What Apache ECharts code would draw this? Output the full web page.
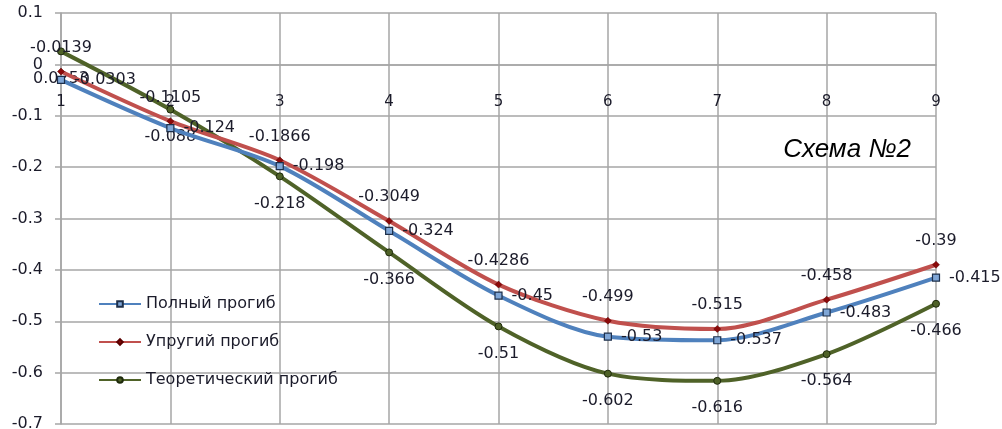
<!DOCTYPE html>
<html>
<head>
<meta charset="utf-8">
<script src="https://cdn.jsdelivr.net/npm/echarts@6/dist/echarts.min.js"></script>
<style>
  html, body { margin: 0; padding: 0; background: #fff; }
  #chart { width: 1002px; height: 429px; }
</style>
</head>
<body>
<div id="chart"></div>
<script>
// Точки сечений и значения прогибов
const categories = ['1', '2', '3', '4', '5', '6', '7', '8', '9'];
const fullDeflection = [-0.0303, -0.124, -0.198, -0.324, -0.45, -0.53, -0.537, -0.483, -0.415];
const elasticDeflection = [-0.0139, -0.1105, -0.1866, -0.3049, -0.4286, -0.499, -0.515, -0.458, -0.39];
const theoreticalDeflection = [0.0253, -0.088, -0.218, -0.366, -0.51, -0.602, -0.616, -0.564, -0.466];
const seriesNames = ['Полный прогиб', 'Упругий прогиб', 'Теоретический прогиб'];
const titleText = 'Схема №2';

const FONT = '"DejaVu Sans", sans-serif';
const TXT = '#1b1b2a';
const GRID = '#a6a6a6';

const labelBase = { show: true, fontFamily: FONT, fontSize: 16, color: TXT };

const chart = echarts.init(document.getElementById('chart'), null, { renderer: 'canvas' });
chart.setOption({
  animation: false,
  backgroundColor: '#fff',
  title: {
    text: titleText,
    right: 86, top: 132,
    textStyle: { fontFamily: '"Liberation Sans", Arial, sans-serif', fontStyle: 'italic', fontWeight: 'normal', fontSize: 26, color: '#000' }
  },
  legend: {
    orient: 'vertical',
    left: 93, top: 291,
    itemWidth: 42, itemHeight: 7, itemGap: 22,
    textStyle: { fontFamily: FONT, fontSize: 16, color: TXT },
    data: seriesNames
  },
  grid: { left: 61, right: 66, top: 13, bottom: 5, containLabel: false, outerBoundsMode: 'none' },
  xAxis: {
    type: 'category',
    data: categories,
    boundaryGap: false,
    position: 'bottom',
    axisLine: { onZero: false, lineStyle: { color: GRID, width: 1.5 } },
    axisTick: { show: false },
    axisLabel: { margin: 30, fontFamily: FONT, fontSize: 15, color: TXT },
    splitLine: { show: true, lineStyle: { color: GRID, width: 1.5 } }
  },
  yAxis: {
    type: 'value',
    min: -0.7, max: 0.1, interval: 0.1,
    axisLine: { show: true, lineStyle: { color: GRID, width: 1.5 } },
    axisTick: { show: true, length: 6, lineStyle: { color: GRID, width: 1.5 } },
    axisLabel: {
      margin: 18, fontFamily: FONT, fontSize: 16, color: TXT,
      formatter: v => String(Math.round(v * 10) / 10)
    },
    splitLine: { show: true, lineStyle: { color: GRID, width: 1.5 } }
  },
  series: [
    {
      name: seriesNames[0], type: 'line', data: fullDeflection, smooth: 0.3, z: 3,
      lineStyle: { color: '#4f81bd', width: 4 },
      itemStyle: { color: '#7fa6d6', borderColor: '#1d2f4a', borderWidth: 1.2 },
      symbol: 'rect', symbolSize: 7,
      label: Object.assign({ position: 'right', distance: 9 }, labelBase)
    },
    {
      name: seriesNames[1], type: 'line', data: elasticDeflection, smooth: 0.3, z: 2,
      lineStyle: { color: '#c0504d', width: 4 },
      itemStyle: { color: '#8b0a0a', borderColor: '#5a0000', borderWidth: 0.5 },
      symbol: 'diamond', symbolSize: 7,
      label: Object.assign({ position: 'top', distance: 12 }, labelBase)
    },
    {
      name: seriesNames[2], type: 'line', data: theoreticalDeflection, smooth: 0.3, z: 1,
      lineStyle: { color: '#4f6228', width: 4 },
      itemStyle: { color: '#4f6228', borderColor: '#1e2a0c', borderWidth: 1 },
      symbol: 'circle', symbolSize: 7,
      label: Object.assign({ position: 'bottom', distance: 15 }, labelBase)
    }
  ]
});

// The category axis crosses the value axis at zero: shift it up from the
// bottom edge of the plot by the pixel distance the value scale gives.
const zeroY = chart.convertToPixel({ yAxisIndex: 0 }, 0);
const bottomY = chart.convertToPixel({ yAxisIndex: 0 }, -0.7);
chart.setOption({ xAxis: { offset: -(bottomY - zeroY) } });
</script>
</body>
</html>
